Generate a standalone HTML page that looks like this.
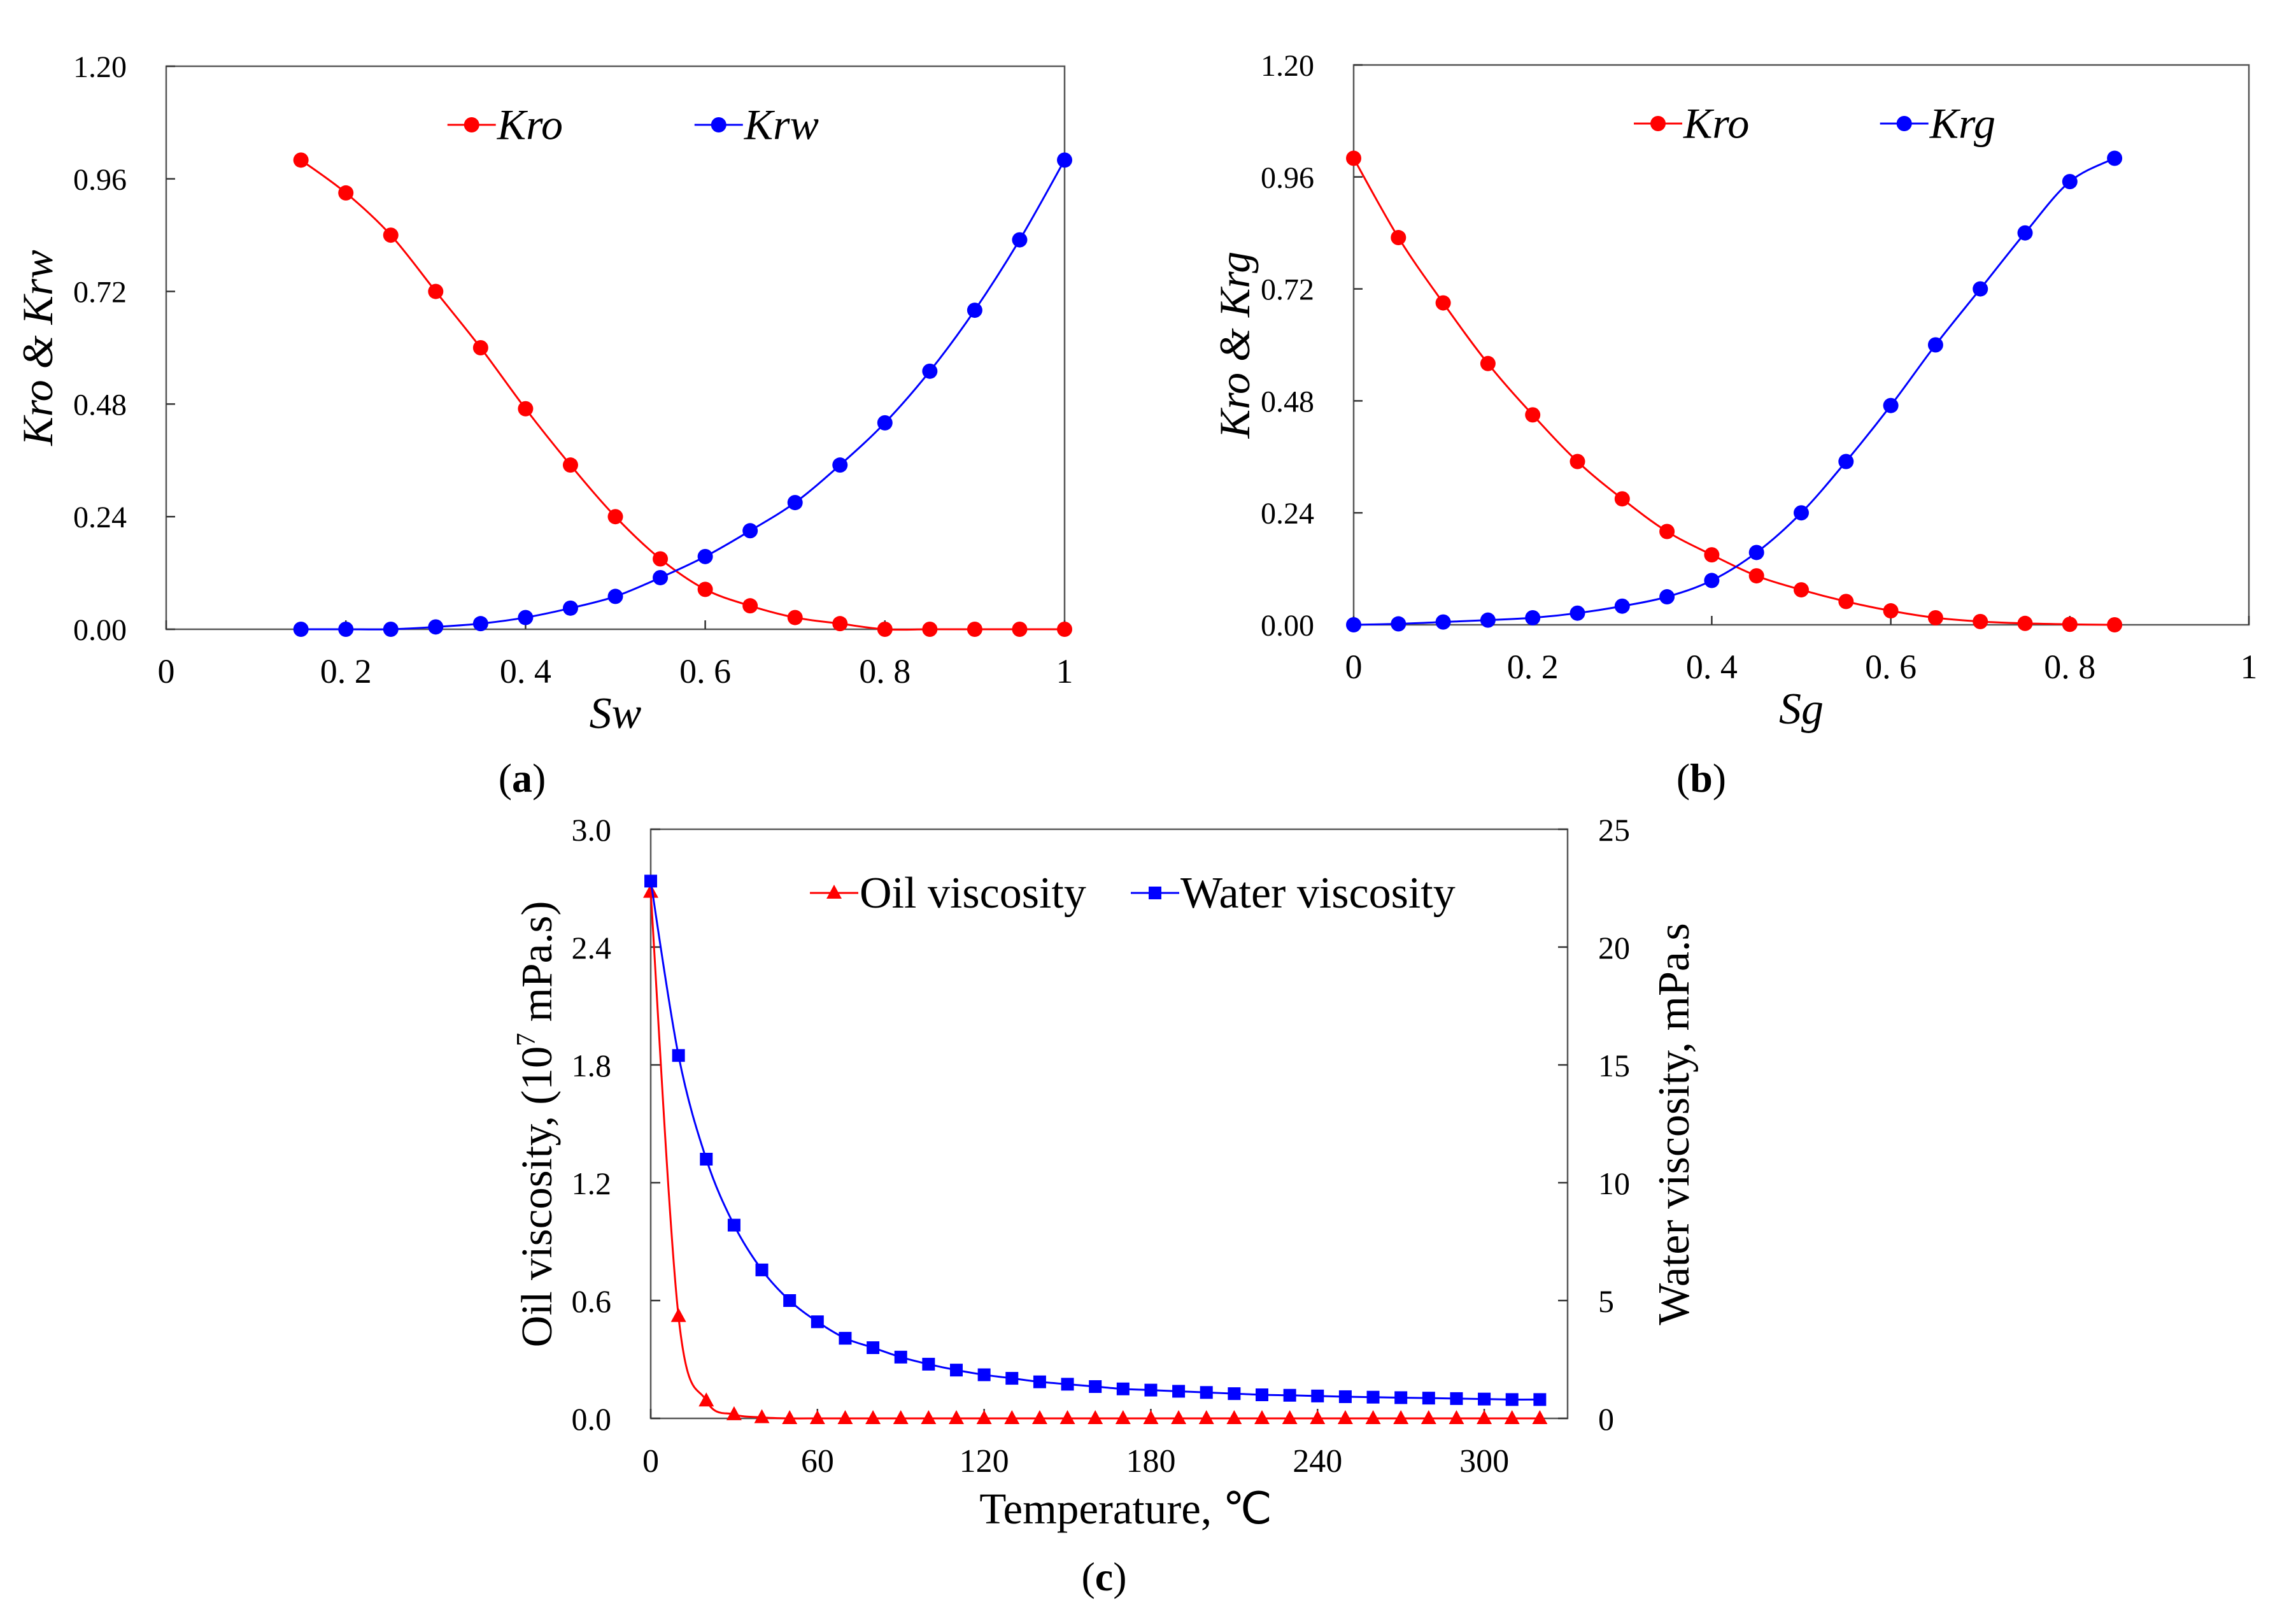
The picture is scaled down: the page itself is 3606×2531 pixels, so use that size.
<!DOCTYPE html>
<html><head><meta charset="utf-8"><style>
html,body{margin:0;padding:0;background:#fff;}
svg{display:block;}
text{font-family:"Liberation Serif",serif;fill:#000;}
</style></head><body>
<svg id="fig" width="3606" height="2531" viewBox="0 0 3606 2531" xmlns="http://www.w3.org/2000/svg"></svg>
<script>
// Panel (a)
const swValues = [0.15,0.2,0.25,0.3,0.35,0.4,0.45,0.5,0.55,0.6,0.65,0.7,0.75,0.8,0.85,0.9,0.95,1.0];
const kroA = [1.0,0.93,0.84,0.72,0.60,0.47,0.35,0.24,0.15,0.085,0.05,0.025,0.012,0,0,0,0,0];
const krwA = [0,0,0,0.005,0.012,0.025,0.045,0.07,0.11,0.155,0.21,0.27,0.35,0.44,0.55,0.68,0.83,1.0];
const xTicksAB = ["0","0. 2","0. 4","0. 6","0. 8","1"];
const yTicksAB = ["0.00","0.24","0.48","0.72","0.96","1.20"];
// Panel (b)
const sgValues = [0,0.05,0.1,0.15,0.2,0.25,0.3,0.35,0.4,0.45,0.5,0.55,0.6,0.65,0.7,0.75,0.8,0.85];
const kroB = [1.0,0.83,0.69,0.56,0.45,0.35,0.27,0.20,0.15,0.105,0.075,0.05,0.03,0.015,0.007,0.003,0.001,0];
const krgB = [0,0.002,0.006,0.01,0.015,0.025,0.04,0.06,0.095,0.155,0.24,0.35,0.47,0.6,0.72,0.84,0.95,1.0];
// Panel (c)
const tempValues = [0,10,20,30,40,50,60,70,80,90,100,110,120,130,140,150,160,170,180,190,200,210,220,230,240,250,260,270,280,290,300,310,320];
const oilVisc = [2.68,0.52,0.09,0.02,0.005,0,0,0,0,0,0,0,0,0,0,0,0,0,0,0,0,0,0,0,0,0,0,0,0,0,0,0,0];
const waterVisc = [22.8,15.4,11.0,8.2,6.3,5.0,4.1,3.4,3.0,2.6,2.3,2.05,1.85,1.7,1.55,1.45,1.35,1.25,1.2,1.15,1.1,1.05,1.0,0.98,0.95,0.92,0.9,0.88,0.86,0.84,0.82,0.8,0.8];
const xTicksC = ["0","60","120","180","240","300"];
const yTicksCL = ["0.0","0.6","1.2","1.8","2.4","3.0"];
const yTicksCR = ["0","5","10","15","20","25"];

const NS="http://www.w3.org/2000/svg";
const svg=document.getElementById('fig');
function mk(tag,attrs,parent){const e=document.createElementNS(NS,tag);for(const k in attrs)e.setAttribute(k,attrs[k]);(parent||svg).appendChild(e);return e;}
function txt(s,attrs,parent){const e=mk('text',attrs,parent);e.textContent=s;return e;}
function lin(d0,d1,r0,r1){return v=>r0+(v-d0)/(d1-d0)*(r1-r0);}
function smooth(pts){
  let d='M'+pts[0][0]+','+pts[0][1];
  for(let i=0;i<pts.length-1;i++){
    const p0=pts[Math.max(i-1,0)],p1=pts[i],p2=pts[i+1],p3=pts[Math.min(i+2,pts.length-1)];
    const c1x=p1[0]+(p2[0]-p0[0])/6,c1y=p1[1]+(p2[1]-p0[1])/6;
    const c2x=p2[0]-(p3[0]-p1[0])/6,c2y=p2[1]-(p3[1]-p1[1])/6;
    d+=' C'+c1x+','+c1y+' '+c2x+','+c2y+' '+p2[0]+','+p2[1];
  }
  return d;
}
function series(g,xs,ys,sx,sy,color,marker,name){
  const pts=xs.map((x,i)=>[sx(x),sy(ys[i])]);
  const p=mk('path',{d:smooth(pts),fill:'none',stroke:color,'stroke-width':3},g);
  
  
  pts.forEach((q,i)=>{
    let m;
    if(marker==='circle') m=mk('circle',{cx:q[0],cy:q[1],r:12,fill:color},g);
    else if(marker==='square') m=mk('rect',{x:q[0]-10,y:q[1]-10,width:20,height:20,fill:color},g);
    else m=mk('polygon',{points:(q[0])+','+(q[1]-13)+' '+(q[0]-12)+','+(q[1]+9)+' '+(q[0]+12)+','+(q[1]+9),fill:color},g);
    
    
  });
}
function legendItem(g,x,y,color,marker,label,italic,fs,name){
  const lg=mk('g',{},g);
  
  
  mk('line',{x1:x-38,y1:y,x2:x+38,y2:y,stroke:color,'stroke-width':3},lg);
  if(marker==='circle') mk('circle',{cx:x,cy:y,r:12,fill:color},lg);
  else if(marker==='square') mk('rect',{x:x-10,y:y-10,width:20,height:20,fill:color},lg);
  else mk('polygon',{points:x+','+(y-13)+' '+(x-12)+','+(y+9)+' '+(x+12)+','+(y+9),fill:color},lg);
  txt(label,{x:x+40,y:y+fs*0.33,'font-size':fs,'font-style':italic?'italic':'normal'},lg);
}
function relPerm(o){
  const g=mk('g',{});
  
  
  const sx=lin(0,1,o.L,o.R), sy=lin(0,1.2,o.B,o.T);
  const f=mk('rect',{x:o.L,y:o.T,width:o.R-o.L,height:o.B-o.T,fill:'none',stroke:'#555','stroke-width':2.5},g);
  
  
  yTicksAB.forEach((t,i)=>{
    const y=sy(i*0.24);
    mk('line',{x1:o.L,y1:y,x2:o.L+14,y2:y,stroke:'#333','stroke-width':2.5},g);
    const e=txt(t,{x:o.L-62,y:y+17,'font-size':48,'text-anchor':'end'},g);
    
    
  });
  xTicksAB.forEach((t,i)=>{
    const x=sx(i*0.2);
    mk('line',{x1:x,y1:o.B,x2:x,y2:o.B-14,stroke:'#333','stroke-width':2.5},g);
    const e=txt(t,{x:x,y:o.B+84,'font-size':54,'text-anchor':'middle'},g);
    
    
  });
  series(g,o.xs,o.y1,sx,sy,'#ff0000','circle',o.n1);
  series(g,o.xs,o.y2,sx,sy,'#0000ff','circle',o.n2);
  legendItem(g,o.L+(o.R-o.L)*0.34,o.T+92,'#ff0000','circle','Kro',true,68,'legend-kro');
  legendItem(g,o.L+(o.R-o.L)*0.615,o.T+92,'#0000ff','circle',o.l2,true,68,'legend-'+o.n2);
  const xt=txt(o.xl,{x:(o.L+o.R)/2,y:o.B+155,'font-size':70,'font-style':'italic','text-anchor':'middle'},g);
  
  
  const yt=txt(o.yl,{x:0,y:0,'font-size':68,'font-style':'italic','text-anchor':'middle',transform:'translate('+o.yx+','+((o.T+o.B)/2)+') rotate(-90)'},g);
  
  
  const cap=mk('text',{x:o.cx,y:1243,'font-size':64,'text-anchor':'middle'},g);
  cap.innerHTML='(<tspan font-weight="bold">'+o.cap+'</tspan>)';
  
  
}
relPerm({name:'panel-a',L:261,R:1672,T:104,B:988,xs:swValues,y1:kroA,y2:krwA,n1:'kro',n2:'krw',l2:'Krw',xl:'Sw',yl:'Kro & Krw',yx:82,cx:820,cap:'a'});
relPerm({name:'panel-b',L:2126,R:3532,T:102,B:981,xs:sgValues,y1:kroB,y2:krgB,n1:'kro',n2:'krg',l2:'Krg',xl:'Sg',yl:'Kro & Krg',yx:1962,cx:2672,cap:'b'});

// Panel (c)
(function(){
  const L=1022,R=2462,T=1302,B=2227;
  const g=mk('g',{});
  
  
  const sx=lin(0,330,L,R), syL=lin(0,3,B,T), syR=lin(0,25,B,T);
  const f=mk('rect',{x:L,y:T,width:R-L,height:B-T,fill:'none',stroke:'#555','stroke-width':2.5},g);
  
  
  yTicksCL.forEach((t,i)=>{
    const y=syL(i*0.6);
    mk('line',{x1:L,y1:y,x2:L+15,y2:y,stroke:'#333','stroke-width':2.5},g);
    const e=txt(t,{x:L-62,y:y+18,'font-size':50,'text-anchor':'end'},g);
    
    
  });
  yTicksCR.forEach((t,i)=>{
    const y=syR(i*5);
    mk('line',{x1:R,y1:y,x2:R-15,y2:y,stroke:'#333','stroke-width':2.5},g);
    const e=txt(t,{x:R+48,y:y+18,'font-size':50,'text-anchor':'start'},g);
    
    
  });
  xTicksC.forEach((t,i)=>{
    const x=sx(i*60);
    mk('line',{x1:x,y1:B,x2:x,y2:B-15,stroke:'#333','stroke-width':2.5},g);
    const e=txt(t,{x:x,y:B+84,'font-size':52,'text-anchor':'middle'},g);
    
    
  });
  series(g,tempValues,oilVisc,sx,syL,'#ff0000','triangle','oil-viscosity');
  series(g,tempValues,waterVisc,sx,syR,'#0000ff','square','water-viscosity');
  legendItem(g,1310,1402,'#ff0000','triangle','Oil viscosity',false,70,'legend-oil-viscosity');
  legendItem(g,1814,1402,'#0000ff','square','Water viscosity',false,70,'legend-water-viscosity');
  const xt=txt('Temperature, ℃',{x:1768,y:2392,'font-size':69,'text-anchor':'middle'},g);
  
  
  const yl=mk('text',{x:0,y:0,'font-size':69,'text-anchor':'middle',transform:'translate(866,1765) rotate(-90)'},g);
  yl.innerHTML='Oil viscosity, (10<tspan font-size="42" dy="-26">7</tspan><tspan dy="26"> mPa.s)</tspan>';
  
  
  const yr=txt('Water viscosity, mPa.s',{x:0,y:0,'font-size':70,'text-anchor':'middle',transform:'translate(2652,1765) rotate(-90)'},g);
  
  
  const cap=mk('text',{x:1734,y:2497,'font-size':64,'text-anchor':'middle'},g);
  cap.innerHTML='(<tspan font-weight="bold">c</tspan>)';
  
  
})();
</script>
</body></html>
